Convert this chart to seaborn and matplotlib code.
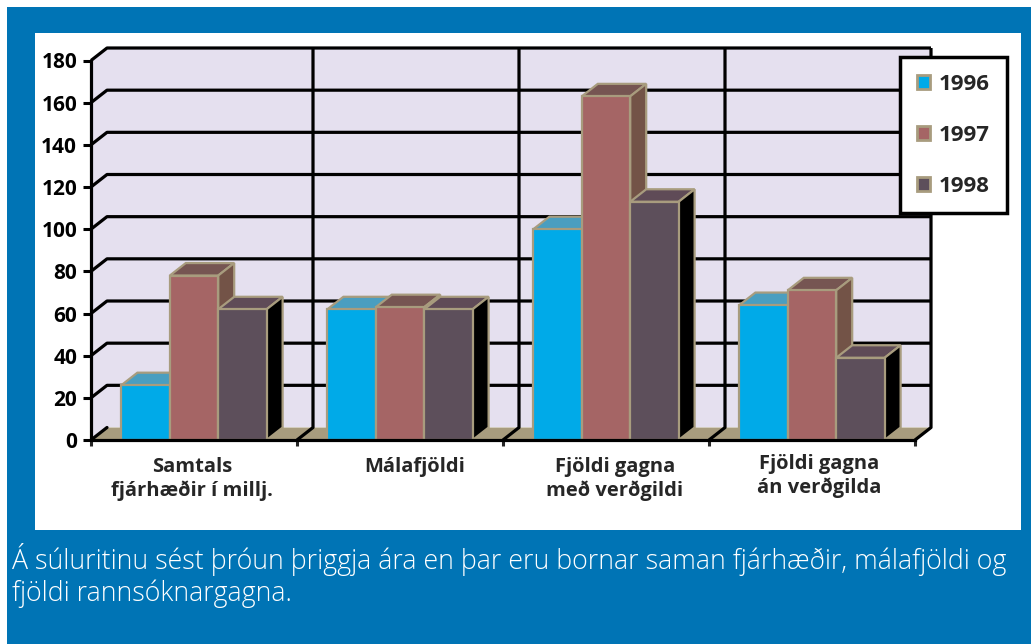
import numpy as np
import pandas as pd
import matplotlib
matplotlib.use("Agg")
import matplotlib.pyplot as plt
import seaborn as sns
from matplotlib.patches import Polygon, Rectangle, Patch
from matplotlib.transforms import Affine2D

# data
categories = ["Samtals\nfjárhæðir í millj.", "Málafjöldi",
              "Fjöldi gagna\nmeð verðgildi", "Fjöldi gagna\nán verðgilda"]
years = ["1996", "1997", "1998"]
v1996 = [26, 62, 100, 64]
v1997 = [78, 63, 163, 71]
v1998 = [62, 62, 113, 39]
yticks = list(range(0, 181, 20))
caption = ("Á súluritinu sést þróun þriggja ára en þar eru bornar saman fjárhæðir, málafjöldi og\n"
           "fjöldi rannsóknargagna.")

# colours
front_colors = ["#00aae8", "#a56565", "#5d4f5b"]
top_colors = ["#4a9ec0", "#765552", "#5f4b57"]
side_colors = ["#3d7fa0", "#735347", "#000000"]
edge = "#a89c7e"
wall = "#e5e0ef"
blue_bg = "#0074b5"

W, H = 1031, 644
DX, DY = 16, 12.5   # depth of the 3d effect, pixels
label_shift = [(-2, 0), (15, 0), (9, 0), (7, 3)]  # pixel nudges for category labels

df = pd.DataFrame({
    "cat": categories * 3,
    "year": np.repeat(years, len(categories)),
    "value": v1996 + v1997 + v1998,
})

sns.set_style("white")
plt.rcParams["font.family"] = ["Open Sans", "DejaVu Sans"]

fig = plt.figure(figsize=(W / 100, H / 100), dpi=100)
fig.patch.set_facecolor("white")


def px_rect(x0, y0, x1, y1, **kw):
    # rectangle in top-left pixel coordinates
    return Rectangle((x0 / W, 1 - y1 / H), (x1 - x0) / W, (y1 - y0) / H,
                     transform=fig.transFigure, **kw)


fig.add_artist(px_rect(7, 7, W, H, facecolor=blue_bg, edgecolor="none", zorder=-2))
fig.add_artist(px_rect(35, 33, 1021, 530, facecolor="white", edgecolor="none", zorder=-1))

ax = fig.add_axes([91 / W, 1 - 440 / H, (915 - 91) / W, (440 - 60.5) / H])
ax.patch.set_alpha(0)

sns.barplot(data=df, x="cat", y="value", hue="year", palette=front_colors,
            width=0.705, saturation=1, edgecolor=edge, linewidth=1.6,
            ax=ax, legend=False)

ax.set_xlim(-0.5, 3.5)
ax.set_ylim(0, 180)
ax.set_xlabel("")
ax.set_ylabel("")

# depth offset in data units
p0 = ax.transData.transform((0, 0))
p1 = ax.transData.transform((1, 1))
ddx = DX / (p1[0] - p0[0])
ddy = DY / (p1[1] - p0[1])
x0, x1 = -0.5, 3.5
ytop = yticks[-1]

# back wall, left side wall, floor
ax.add_patch(Polygon([(x0 + ddx, ddy), (x1 + ddx, ddy), (x1 + ddx, ytop + ddy), (x0 + ddx, ytop + ddy)],
                     facecolor=wall, edgecolor="none", zorder=0.5, clip_on=False))
ax.add_patch(Polygon([(x0, 0), (x0, ytop), (x0 + ddx, ytop + ddy), (x0 + ddx, ddy)],
                     facecolor=wall, edgecolor="none", zorder=0.5, clip_on=False))
ax.add_patch(Polygon([(x0, 0), (x1, 0), (x1 + ddx, ddy), (x0 + ddx, ddy)],
                     facecolor=edge, edgecolor="none", zorder=1, clip_on=False))

lw = 2.3
for y in yticks:
    if y == 0:
        ax.plot([x0, x0 + ddx], [0, ddy], color="black", lw=lw, zorder=2, clip_on=False)
    else:
        ax.plot([x0, x0 + ddx, x1 + ddx], [y, y + ddy, y + ddy], color="black", lw=lw,
                zorder=2, clip_on=False, solid_capstyle="butt")
for xb in [0.5, 1.5, 2.5]:
    ax.plot([xb, xb + ddx, xb + ddx], [0, ddy, ytop + ddy], color="black", lw=lw,
            zorder=2, clip_on=False, solid_capstyle="butt")
ax.plot([x1, x1 + ddx, x1 + ddx], [0, ddy, ytop + ddy], color="black", lw=lw,
        zorder=2, clip_on=False, solid_capstyle="butt")
ax.plot([x0, x0, x1], [ytop, 0, 0], color="black", lw=lw, zorder=12, clip_on=False,
        solid_capstyle="projecting")

# 3d faces of the bars, built from the bars seaborn drew
n = len(categories)
for i, bar in enumerate(ax.patches[:3 * n]):
    k = i // n
    bx, bw, bh = bar.get_x(), bar.get_width(), bar.get_height()
    bar.set_zorder(4 + 2 * k)
    top = Polygon([(bx, bh), (bx + bw, bh), (bx + bw + ddx, bh + ddy), (bx + ddx, bh + ddy)],
                  facecolor=top_colors[k], edgecolor=edge, lw=1.6, zorder=3 + 2 * k,
                  clip_on=False)
    side = Polygon([(bx + bw, 0), (bx + bw + ddx, ddy), (bx + bw + ddx, bh + ddy), (bx + bw, bh)],
                   facecolor=side_colors[k], edgecolor=edge, lw=1.6, zorder=3 + 2 * k,
                   clip_on=False)
    ax.add_patch(top)
    ax.add_patch(side)

for s in ax.spines.values():
    s.set_visible(False)

ax.set_yticks(yticks)
ax.set_yticklabels([str(v) for v in yticks], fontsize=15, fontweight="bold")
ax.tick_params(axis="y", left=True, length=6, width=2.2, pad=4, colors="black")

ax.set_xticks(range(n))
ax.set_xticklabels(categories, fontsize=14.5, fontweight="bold", linespacing=1.25)
ax.set_xticks(np.arange(-0.5, n, 1.0), minor=True)
ax.tick_params(axis="x", which="major", length=0, pad=12)
ax.tick_params(axis="x", which="minor", bottom=True, length=4, width=2.2)
for lab, (sx, sy) in zip(ax.get_xticklabels(), label_shift):
    lab.set_transform(lab.get_transform() + Affine2D().translate(sx, sy))

handles = [Patch(facecolor=c, edgecolor=edge, lw=2) for c in front_colors]
leg = ax.legend(handles, years, loc="upper left", bbox_to_anchor=(900 / W, 1 - 57 / H),
                bbox_transform=fig.transFigure, frameon=True, fancybox=False,
                edgecolor="black", framealpha=1, borderpad=0.75, labelspacing=1.35,
                handlelength=0.6, handleheight=0.6, handletextpad=0.4, borderaxespad=0,
                prop={"weight": "bold", "size": 16})
leg.get_frame().set_linewidth(2.5)
leg.set_zorder(20)

fig.text(12 / W, 1 - 543 / H, caption, color="white", fontsize=19.3, fontweight="light",
         va="top", ha="left", linespacing=1.14)

fig.savefig("out.png", dpi=100, facecolor=fig.get_facecolor())
